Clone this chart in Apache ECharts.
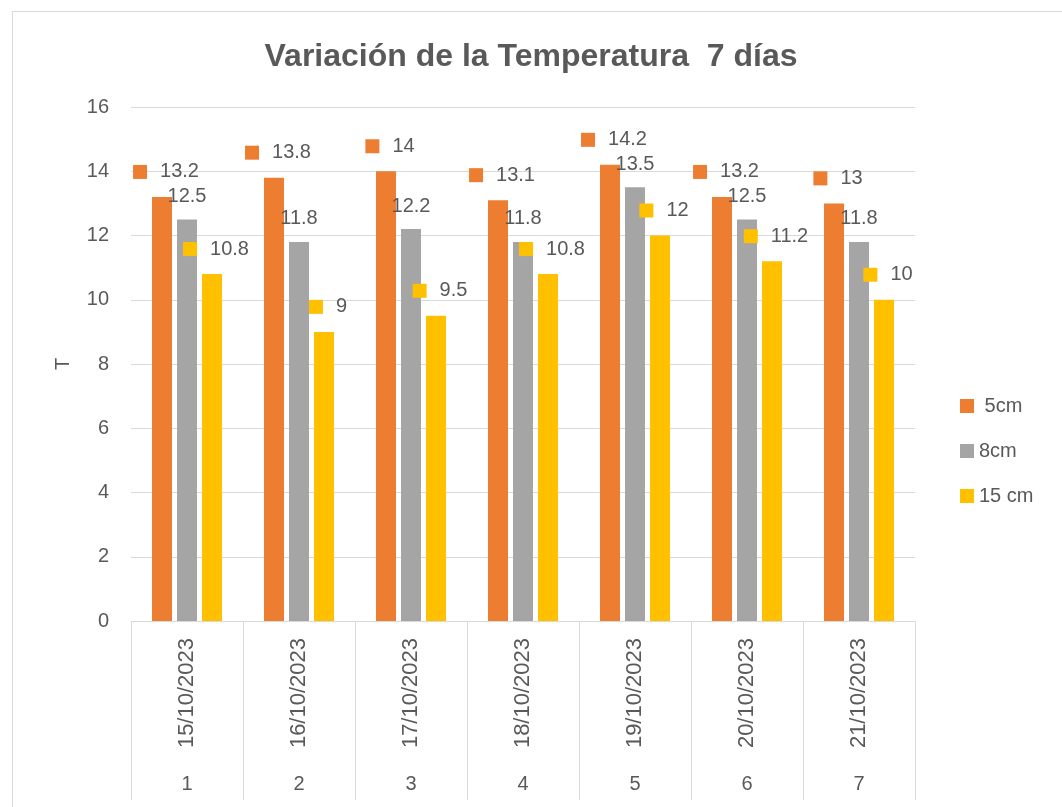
<!DOCTYPE html>
<html>
<head>
<meta charset="utf-8">
<script src="https://cdn.jsdelivr.net/npm/echarts@6/dist/echarts.min.js"></script>
<style>html,body{margin:0;padding:0;background:#fff;}#c{width:1062px;height:807px;}</style>
</head>
<body>
<div id="c"></div>
<script>
const dates = ['15/10/2023','16/10/2023','17/10/2023','18/10/2023','19/10/2023','20/10/2023','21/10/2023'];
const groups = ['1','2','3','4','5','6','7'];
const seriesNames = [' 5cm', '8cm', '15 cm'];
const s5cm = [13.2, 13.8, 14, 13.1, 14.2, 13.2, 13];
const s8cm = [12.5, 11.8, 12.2, 11.8, 13.5, 12.5, 11.8];
const s15cm = [10.8, 9, 9.5, 10.8, 12, 11.2, 10];
const yTicks = {min: 0, max: 16, interval: 2};

const TXT = '#595959';
const FONT = '"Liberation Sans", Arial, sans-serif';
const colors = ['#ED7D31', '#A5A5A5', '#FFC000'];

function keyLabel(color, dist) {
  return {
    show: true, position: 'top', distance: dist, offset: [4, 0],
    formatter: p => '{k|}{v|' + p.value + '}',
    rich: {
      k: {width: 14, height: 14, backgroundColor: color},
      v: {fontSize: 20, lineHeight: 20, color: TXT, fontFamily: FONT, padding: [0, 0, 0, 13]}
    }
  };
}

const chart = echarts.init(document.getElementById('c'), null, {renderer: 'canvas'});
chart.setOption({
  animation: false,
  backgroundColor: '#fff',
  textStyle: {fontFamily: FONT, color: TXT},
  graphic: [{
    type: 'rect', left: 10, top: 9, silent: true,
    shape: {width: 1050, height: 820},
    style: {fill: 'none', stroke: '#D9D9D9', lineWidth: 1}
  }],
  title: {
    text: 'Variación de la Temperatura  7 días',
    left: 'center', top: 36,
    textStyle: {fontSize: 32, fontWeight: 'bold', color: TXT, fontFamily: FONT}
  },
  legend: {
    orient: 'vertical', left: 955, top: 391, itemGap: 25,
    itemWidth: 14, itemHeight: 14, icon: 'rect',
    data: seriesNames,
    textStyle: {fontSize: 20, color: TXT, fontFamily: FONT}
  },
  grid: {left: 131, right: 147, top: 107, bottom: 186, containLabel: false},
  xAxis: [{
    type: 'category', data: dates, position: 'bottom',
    axisLine: {show: true, lineStyle: {color: '#D9D9D9', width: 1}},
    axisTick: {show: true, length: 179, interval: 0, lineStyle: {color: '#D9D9D9', width: 1}},
    axisLabel: {rotate: 90, margin: 17, fontSize: 22, color: TXT, fontFamily: FONT, interval: 0}
  }, {
    type: 'category', data: groups, position: 'bottom', offset: 145,
    axisLine: {show: false}, axisTick: {show: false},
    axisLabel: {margin: 8, fontSize: 20, color: TXT, fontFamily: FONT, interval: 0}
  }],
  yAxis: {
    type: 'value', min: yTicks.min, max: yTicks.max, interval: yTicks.interval,
    name: 'T', nameLocation: 'middle', nameGap: 58,
    nameTextStyle: {fontSize: 20, color: TXT, fontFamily: FONT},
    axisLine: {show: false}, axisTick: {show: false},
    axisLabel: {fontSize: 20, color: TXT, fontFamily: FONT, margin: 22},
    splitLine: {lineStyle: {color: '#D9D9D9', width: 1}}
  },
  series: [{
    name: seriesNames[0], type: 'bar', data: s5cm, xAxisIndex: 0,
    barGap: '25%', barCategoryGap: '37.5%',
    itemStyle: {color: colors[0]},
    label: keyLabel(colors[0], 15)
  }, {
    name: seriesNames[1], type: 'bar', data: s8cm, xAxisIndex: 0,
    barGap: '25%', barCategoryGap: '37.5%',
    itemStyle: {color: colors[1]},
    label: {show: true, position: 'top', distance: 13, fontSize: 20, lineHeight: 20, color: TXT, fontFamily: FONT}
  }, {
    name: seriesNames[2], type: 'bar', data: s15cm, xAxisIndex: 0,
    barGap: '25%', barCategoryGap: '37.5%',
    itemStyle: {color: colors[2]},
    label: keyLabel(colors[2], 15)
  }]
});
</script>
</body>
</html>
